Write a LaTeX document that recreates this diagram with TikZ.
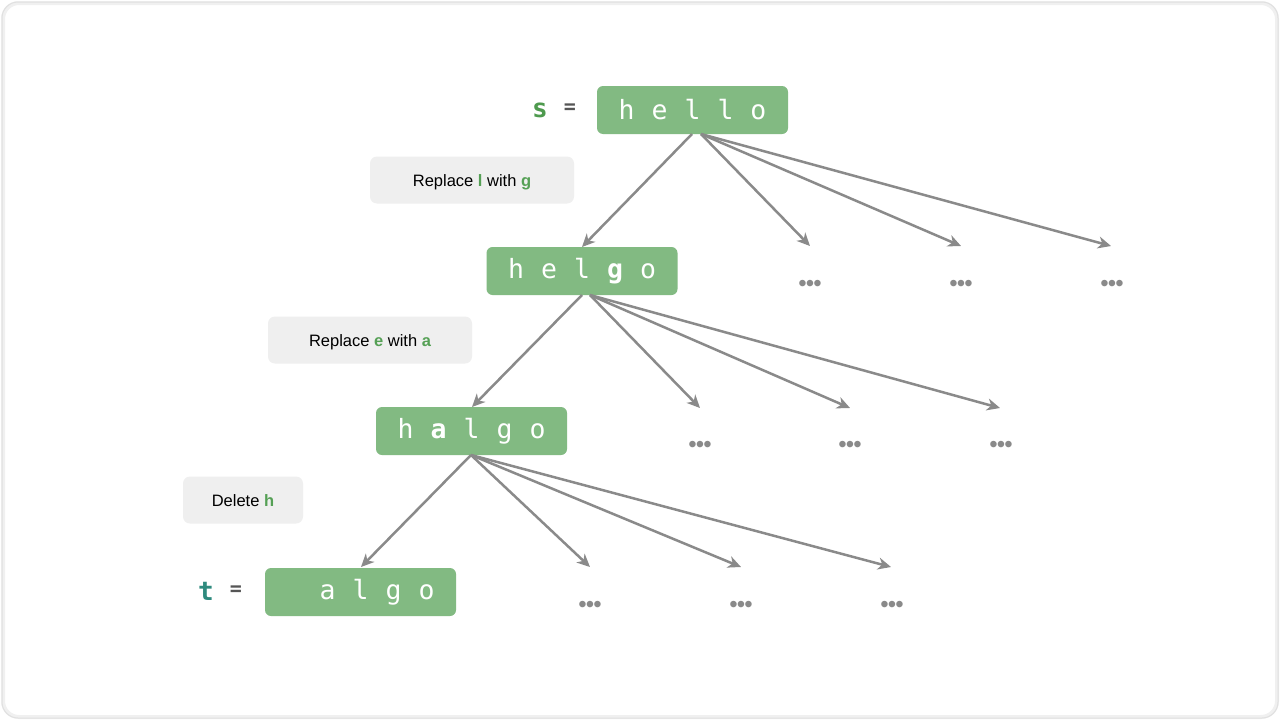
\documentclass[tikz,border=0pt]{standalone}
\usepackage{fontspec}
\setmainfont{Liberation Sans}
\newfontfamily\monofam{DejaVu Sans Mono}
\usetikzlibrary{arrows.meta}
\definecolor{boxgreen}{HTML}{82BA82}
\definecolor{hlgreen}{HTML}{55A055}
\definecolor{sgreen}{HTML}{4E9A4E}
\definecolor{tteal}{HTML}{2E8A7E}
\definecolor{arrgray}{HTML}{8A8A8A}
\definecolor{lblgray}{HTML}{EFEFEF}
\definecolor{eqgray}{HTML}{555555}
\newcommand{\ch}[1]{\makebox[33pt]{#1}}
\newcommand{\mydots}{\char"2022\kern-0.9pt\char"2022\kern-0.9pt\char"2022}
\tikzset{
  strbox/.style={fill=boxgreen, rounded corners=6pt, minimum width=191pt, minimum height=48pt, inner sep=0pt, text=white, font=\monofam\fontsize{26.5}{26.5}\selectfont},
  opbox/.style={fill=lblgray, rounded corners=7pt, minimum height=47pt, inner sep=0pt, text height=14pt, text depth=2pt, font=\fontsize{16.5}{16.5}\selectfont},
  dots/.style={text=arrgray, font=\fontsize{24}{24}\selectfont, inner sep=0pt, anchor=base},
  arr/.style={draw=arrgray, line width=2.5pt, -{Stealth[length=13pt,width=12pt,inset=4pt]}},
  varlbl/.style={font=\monofam\bfseries\fontsize{26}{26}\selectfont, inner sep=0pt},
  eqlbl/.style={text=eqgray, font=\monofam\bfseries\fontsize{20}{20}\selectfont, inner sep=0pt}
}
\begin{document}
\begin{tikzpicture}[x=1pt,y=-1pt]
\useasboundingbox (0,0) rectangle (1280,720);
\fill[white] (0,0) rectangle (1280,720);
\draw[draw=black!6, line width=4pt, rounded corners=16pt] (3,3) rectangle (1277,717);
\draw[draw=black!12, line width=1pt, rounded corners=16pt] (2,2) rectangle (1278,718);

% strings
\node[strbox] (hello) at (692.5,110) {\ch{h}\ch{e}\ch{l}\ch{l}\ch{o}};
\node[strbox] (helgo) at (582,271) {\ch{h}\ch{e}\ch{l}\ch{\bfseries g}\ch{o}};
\node[strbox] (halgo) at (471.5,431) {\ch{h}\ch{\bfseries a}\ch{l}\ch{g}\ch{o}};
\node[strbox] (algo) at (360.5,592) {\ch{}\ch{a}\ch{l}\ch{g}\ch{o}};

% s = / t =
\node[varlbl, text=sgreen] (s) at (540,110) {s};
\node[eqlbl] (seq) at (570,109) {=};
\node[varlbl, text=tteal] (t) at (206,591) {t};
\node[eqlbl] (teq) at (236,591) {=};

% operation labels
\node[opbox, minimum width=204pt] (op1) at (472,180) {Replace \textbf{\color{hlgreen}l} with \textbf{\color{hlgreen}g}};
\node[opbox, minimum width=204pt] (op2) at (370,340) {Replace \textbf{\color{hlgreen}e} with \textbf{\color{hlgreen}a}};
\node[opbox, minimum width=120pt] (op3) at (243,500) {Delete \textbf{\color{hlgreen}h}};

% dots
\node[dots] (d11) at (810,291) {\mydots};
\node[dots] (d12) at (961,291) {\mydots};
\node[dots] (d13) at (1112,291) {\mydots};
\node[dots] (d21) at (700,452) {\mydots};
\node[dots] (d22) at (850,452) {\mydots};
\node[dots] (d23) at (1001,452) {\mydots};
\node[dots] (d31) at (590,612) {\mydots};
\node[dots] (d32) at (741,612) {\mydots};
\node[dots] (d33) at (892,612) {\mydots};

% arrow end coordinates
\coordinate (e11) at (810,246);
\coordinate (e12) at (961,246);
\coordinate (e13) at (1111,246);
\coordinate (e21) at (700,408);
\coordinate (e22) at (850,408);
\coordinate (e23) at (1000,408);
\coordinate (e31) at (590,567);
\coordinate (e32) at (741,567);
\coordinate (e33) at (891,567);

% arrow start coordinates
\coordinate (s1a) at (692,134);
\coordinate (s1b) at (701,134);
\coordinate (s2a) at (582,295);
\coordinate (s2b) at (590,295);
\coordinate (s3) at (471,455);

\draw[arr] (s1a) -- (582,247);
\draw[arr] (s1b) -- (e11);
\draw[arr] (s1b) -- (e12);
\draw[arr] (s1b) -- (e13);

\draw[arr] (s2a) -- (472,407);
\draw[arr] (s2b) -- (e21);
\draw[arr] (s2b) -- (e22);
\draw[arr] (s2b) -- (e23);

\draw[arr] (s3) -- (361,567);
\draw[arr] (s3) -- (e31);
\draw[arr] (s3) -- (e32);
\draw[arr] (s3) -- (e33);
\end{tikzpicture}
\end{document}
